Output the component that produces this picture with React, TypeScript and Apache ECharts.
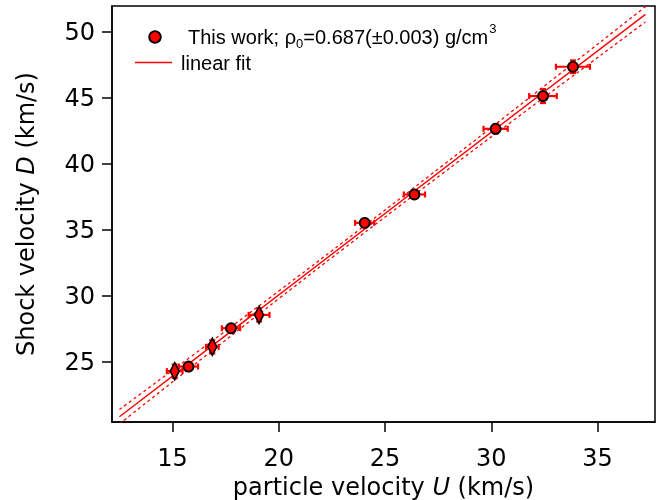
import React, { useEffect, useRef } from "react";
import * as echarts from "echarts";

// Data
const U = [15.1, 15.75, 16.87, 17.75, 19.07, 24.04, 26.38, 30.2, 32.43, 33.84];
const D = [24.3, 24.65, 26.14, 27.55, 28.56, 35.53, 37.68, 42.65, 45.13, 47.35];
const uErr = [0.37, 0.45, 0.3, 0.43, 0.49, 0.45, 0.5, 0.57, 0.65, 0.8];
const dErr = [0.5, 0.3, 0.5, 0.3, 0.5, 0.3, 0.3, 0.35, 0.53, 0.48];
const markerKind = ["diamond", "circle", "diamond", "circle", "diamond", "circle", "circle", "circle", "circle", "circle"];

const fitU = [12.5, 37.25];
const fitD = [20.85, 51.32];
const bandU = [12.5, 16, 20, 23.1, 27, 31, 37.25];
const bandUpper = [21.4, 25.56, 30.37, 34.16, 38.99, 44.01, 51.9];
const bandLower = [20.3, 24.76, 29.79, 33.64, 38.41, 43.25, 50.74];

const xTicks = [15, 20, 25, 30, 35];
const yTicks = [25, 30, 35, 40, 45, 50];

const RED = "#ff0000";
const AXIS_FONT = "DejaVu Sans";
const LEG_FONT = "Liberation Sans";

export default function App() {
  const ref = useRef<HTMLDivElement>(null);
  useEffect(() => {
    const chart = echarts.init(ref.current!, null, { renderer: "svg" });
    const ctx = document.createElement("canvas").getContext("2d")!;
    const measure = (t: string, size: number) => {
      ctx.font = `${size}px "${LEG_FONT}"`;
      return ctx.measureText(t).width;
    };

    const LS = 20;
    const SS = 13;
    const lx = 188;
    const ly = 37;
    const p1 = "This work; \u03c1";
    const p2 = "=0.687(\u00b10.003) g/cm";
    const w1 = measure(p1, LS);
    const ws = measure("0", SS);
    const w2 = measure(p2, LS);

    const txt = (text: string, x: number, y: number, size: number) => ({
      type: "text",
      x,
      y,
      style: {
        text,
        fontSize: size,
        fontFamily: LEG_FONT,
        fill: "#000",
        verticalAlign: "middle",
        align: "left",
      },
      z: 10,
    });

    const circles = U.map((u, i) => [u, D[i]]).filter((_, i) => markerKind[i] === "circle");
    const diamonds = U.map((u, i) => [u, D[i]]).filter((_, i) => markerKind[i] === "diamond");

    const option: any = {
      animation: false,
      grid: {
        left: 112,
        right: 3,
        top: 6,
        bottom: 78,
        show: true,
        borderColor: "#000",
        borderWidth: 1.5,
        backgroundColor: "transparent",
        containLabel: false,
        outerBoundsMode: "none",
      },
      xAxis: {
        type: "value",
        min: 12.15,
        max: 37.7,
        name: "{a|particle velocity }{i|U}{a| (km/s)}",
        nameLocation: "middle",
        nameGap: 53,
        nameTextStyle: {
          color: "#000",
          fontFamily: AXIS_FONT,
          fontSize: 24,
          rich: {
            a: { fontFamily: AXIS_FONT, fontSize: 24, color: "#000" },
            i: { fontFamily: AXIS_FONT, fontSize: 24, color: "#000", fontStyle: "italic" },
          },
        },
        axisLine: { show: true, lineStyle: { color: "#000", width: 1.5 } },
        axisTick: { show: true, inside: false, length: 10, customValues: xTicks, lineStyle: { color: "#000", width: 1.5 } },
        axisLabel: { customValues: xTicks, margin: 24, color: "#000", fontFamily: AXIS_FONT, fontSize: 24 },
        splitLine: { show: false },
      },
      yAxis: {
        type: "value",
        min: 20.45,
        max: 51.95,
        name: "{a|Shock velocity }{i|D}{a| (km/s)}",
        nameLocation: "middle",
        nameGap: 74,
        nameTextStyle: {
          color: "#000",
          fontFamily: AXIS_FONT,
          fontSize: 24,
          rich: {
            a: { fontFamily: AXIS_FONT, fontSize: 24, color: "#000" },
            i: { fontFamily: AXIS_FONT, fontSize: 24, color: "#000", fontStyle: "italic" },
          },
        },
        axisLine: { show: true, lineStyle: { color: "#000", width: 1.5 } },
        axisTick: { show: true, inside: false, length: 10, customValues: yTicks, lineStyle: { color: "#000", width: 1.5 } },
        axisLabel: { customValues: yTicks, margin: 17, color: "#000", fontFamily: AXIS_FONT, fontSize: 24 },
        splitLine: { show: false },
      },
      series: [
        {
          type: "line",
          data: bandU.map((u, i) => [u, bandUpper[i]]),
          smooth: true,
          showSymbol: false,
          silent: true,
          lineStyle: { color: RED, width: 1.3, type: [3, 3] },
          z: 1,
        },
        {
          type: "line",
          data: bandU.map((u, i) => [u, bandLower[i]]),
          smooth: true,
          showSymbol: false,
          silent: true,
          lineStyle: { color: RED, width: 1.3, type: [3, 3] },
          z: 1,
        },
        {
          type: "line",
          data: fitU.map((u, i) => [u, fitD[i]]),
          showSymbol: false,
          silent: true,
          lineStyle: { color: RED, width: 1.4 },
          z: 2,
        },
        {
          type: "custom",
          data: U.map((u, i) => [u, D[i], uErr[i], dErr[i]]),
          encode: { x: 0, y: 1 },
          z: 3,
          renderItem: (params: any, api: any) => {
            const u = api.value(0);
            const d = api.value(1);
            const eu = api.value(2);
            const ed = api.value(3);
            const l = api.coord([u - eu, d]);
            const r = api.coord([u + eu, d]);
            const t = api.coord([u, d + ed]);
            const b = api.coord([u, d - ed]);
            const c = 3;
            const st = { stroke: RED, lineWidth: 2.2 };
            const ln = (x1: number, y1: number, x2: number, y2: number) => ({
              type: "line",
              shape: { x1, y1, x2, y2 },
              style: st,
            });
            return {
              type: "group",
              children: [
                ln(l[0], l[1], r[0], r[1]),
                ln(l[0], l[1] - c, l[0], l[1] + c),
                ln(r[0], r[1] - c, r[0], r[1] + c),
                ln(t[0], t[1], b[0], b[1]),
                ln(t[0] - c, t[1], t[0] + c, t[1]),
                ln(b[0] - c, b[1], b[0] + c, b[1]),
              ],
            };
          },
        },
        {
          type: "scatter",
          data: circles,
          symbol: "circle",
          symbolSize: 10,
          itemStyle: { color: RED, borderColor: "#000", borderWidth: 1.8, opacity: 1 },
          z: 5,
        },
        {
          type: "scatter",
          data: diamonds,
          symbol: "diamond",
          symbolSize: [9, 17],
          itemStyle: { color: RED, borderColor: "#000", borderWidth: 1.8, opacity: 1 },
          z: 5,
        },
      ],
      graphic: [
        {
          type: "circle",
          shape: { cx: 155, cy: 37, r: 5.8 },
          style: { fill: RED, stroke: "#000", lineWidth: 1.8 },
          z: 10,
        },
        txt(p1, lx, ly, LS),
        txt("0", lx + w1, ly + 6, SS),
        txt(p2, lx + w1 + ws, ly, LS),
        txt("3", lx + w1 + ws + w2 + 1, ly - 8.5, SS),
        {
          type: "line",
          shape: { x1: 135, y1: 62.5, x2: 172, y2: 62.5 },
          style: { stroke: RED, lineWidth: 1.3 },
          z: 10,
        },
        txt("linear fit", 181, 63, LS),
      ],
    };
    chart.setOption(option);
    return () => chart.dispose();
  }, []);
  return <div ref={ref} style={{ position: "fixed", left: 0, top: 0, width: 658, height: 500 }} />;
}
